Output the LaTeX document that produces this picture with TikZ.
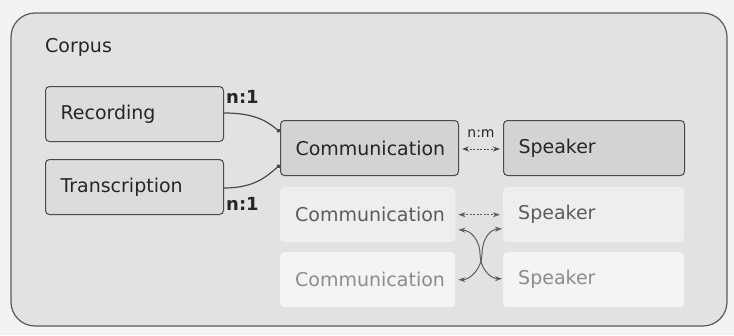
\documentclass[tikz,border=0pt]{standalone}
\usepackage{fontspec}
\setmainfont{DejaVu Sans}
\usetikzlibrary{arrows.meta,calc}
\definecolor{pagebg}{HTML}{F3F3F3}
\definecolor{outerbg}{HTML}{E2E2E2}
\definecolor{outerline}{HTML}{5A5A5A}
\definecolor{boxA}{HTML}{DCDCDC}
\definecolor{boxB}{HTML}{D3D3D3}
\definecolor{boxline}{HTML}{4A4A4A}
\definecolor{rowtwo}{HTML}{EEEEEE}
\definecolor{rowthree}{HTML}{F4F4F4}
\definecolor{txtdark}{HTML}{262626}
\definecolor{txtmid}{HTML}{5C5C5C}
\definecolor{txtlight}{HTML}{8C8C8C}
\definecolor{ghostline}{HTML}{5E5E5E}
\tikzset{
  base/.style={rectangle, rounded corners=4pt, minimum height=55pt, inner xsep=15pt,
    inner ysep=0pt, align=left, font=\fontsize{19}{22}\selectfont, anchor=north west},
  srcbox/.style={base, draw=boxline, line width=1pt, fill=boxA, text=txtdark, text width=148pt},
  mainbox/.style={base, draw=boxline, line width=1pt, fill=boxB, text=txtdark},
  ghostA/.style={base, fill=rowtwo, text=txtmid},
  ghostB/.style={base, fill=rowthree, text=txtlight},
  card/.style={font=\fontsize{18}{20}\selectfont\bfseries, text=txtdark, inner sep=0pt},
  cardsmall/.style={font=\fontsize{14}{16}\selectfont, text=txtdark, inner sep=0pt},
  link/.style={draw=boxline, line width=1.2pt, -{Circle[length=4pt]}},
  rel/.style={line width=1pt, dash pattern=on 2pt off 1.5pt, {Stealth[length=7pt,width=5pt]}-{Stealth[length=7pt,width=5pt]}},
  cross/.style={line width=1pt, {Stealth[length=7pt,width=5pt]}-{Stealth[length=7pt,width=5pt]}}
}
\begin{document}
\begin{tikzpicture}[x=1pt,y=-1pt]
\useasboundingbox[fill=pagebg] (0,0) rectangle (734,335);
\draw[draw=outerline, fill=outerbg, line width=1.2pt, rounded corners=24pt] (11,13) rectangle (727,326);
\node[anchor=west, font=\fontsize{19}{22}\selectfont, text=txtdark, inner sep=0pt] (corpus) at (45,47) {Corpus};

\node[srcbox] (rec) at (45,86) {Recording};
\node[srcbox] (tra) at (45,159) {Transcription};

\node[mainbox, text width=148pt] (com1) at (280,120) {Communication};
\node[mainbox, text width=151pt] (spk1) at (503,120) {Speaker};

\node[ghostA, text width=145pt] (com2) at (280,187) {Communication};
\node[ghostA, text width=151pt] (spk2) at (503,187) {Speaker};

\node[ghostB, text width=145pt] (com3) at (280,252) {Communication};
\node[ghostB, text width=151pt] (spk3) at (503,252) {Speaker};

% n:1 links
\coordinate (recout) at ([yshift=1pt]rec.east);
\coordinate (traout) at ([yshift=-1pt]tra.east);
\coordinate (comin1) at ([yshift=16pt]com1.west);
\coordinate (comin2) at ([yshift=-17pt]com1.west);
\draw[link] (recout) .. controls +(32,0) and +(-12,-10) .. (comin1);
\draw[link] (traout) .. controls +(32,0) and +(-12,10) .. (comin2);
\node[card, anchor=north west] (l1) at ([xshift=2pt,yshift=-4pt]rec.north east) {n:1};
\node[card, anchor=south west] (l2) at ([xshift=2pt,yshift=4pt]tra.south east) {n:1};

% n:m
\draw[rel, draw=boxline] ([xshift=3pt,yshift=-1pt]com1.east) -- ([xshift=-3pt,yshift=-1pt]spk1.west);
\node[cardsmall, anchor=south] (lm) at ([yshift=10pt]$(com1.east)!0.5!(spk1.west)$) {n:m};

% ghost relations
\draw[rel, draw=ghostline] ([xshift=3pt]com2.east) -- ([xshift=-3pt]spk2.west);
\coordinate (c2b) at ([xshift=3pt,yshift=-15pt]com2.east);
\coordinate (s2b) at ([xshift=-1pt,yshift=-14pt]spk2.west);
\coordinate (c3r) at ([xshift=3pt]com3.east);
\coordinate (s3l) at ([xshift=-1pt,yshift=1pt]spk3.west);
\coordinate (midA) at (480,254);
\coordinate (midB) at (482,254);
\draw[cross, draw=ghostline] (c2b) .. controls +(14,1) and +(0,-12) .. (midA) .. controls +(0,14) and +(-12,0) .. (s3l);
\draw[cross, draw=ghostline] (s2b) .. controls +(-14,1) and +(0,-12) .. (midB) .. controls +(0,14) and +(12,0) .. (c3r);
\end{tikzpicture}
\end{document}
